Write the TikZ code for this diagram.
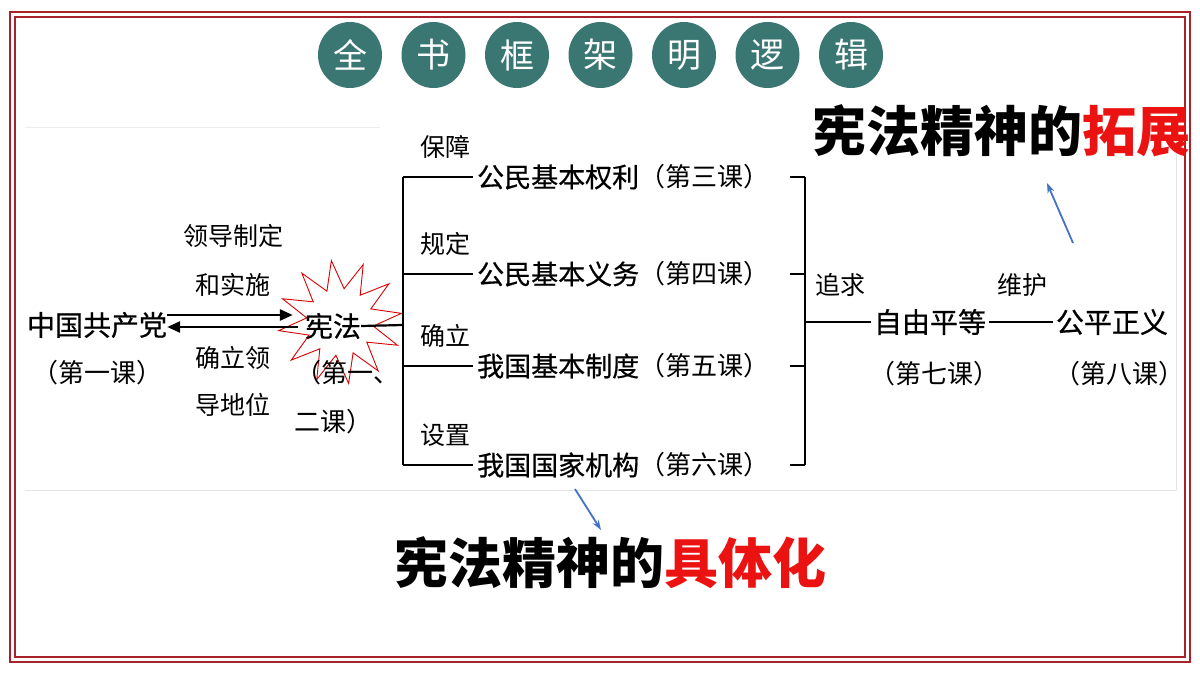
\documentclass[tikz,border=0pt]{standalone}
\usepackage{fontspec}
\setmainfont{Noto Sans CJK SC}
\newfontfamily\heavycjk{Noto Sans CJK SC}[UprightFeatures={FakeBold=0.6}]
\usetikzlibrary{arrows.meta, shapes.geometric}

\definecolor{framered}{RGB}{168,34,42}
\definecolor{circleteal}{RGB}{58,118,114}
\definecolor{arrowblue}{RGB}{68,114,196}
\definecolor{spiritred}{RGB}{235,18,18}

\begin{document}
\begin{tikzpicture}[x=1pt, y=-1pt,
    titlecircle/.style={ellipse, fill=circleteal, text=white, minimum width=64pt, minimum height=66pt, inner sep=0pt, font=\fontsize{34}{34}\selectfont},
    mainlabel/.style={inner sep=0pt, font=\fontsize{28}{28}\selectfont\heavycjk},
    sidelabel/.style={inner sep=0pt, font=\fontsize{25}{25}\selectfont},
    lessonlabel/.style={inner sep=0pt, font=\fontsize{26}{26}\selectfont},
    spirit/.style={inner sep=0pt, font=\fontsize{54}{54}\selectfont\bfseries},
    link/.style={line width=2.2pt},
    arr/.style={line width=2.6pt, -{Triangle[length=13pt, width=11pt]}},
    bluearr/.style={line width=1.8pt, arrowblue, -{Stealth[length=10pt, width=7pt]}}]
                \useasboundingbox (0,0) rectangle (1200,675);
                \fill[white] (0,0) rectangle (1200,675);

                % Frame:
                \draw[framered, line width=2.6pt] (10,12) rectangle (1190,662);
                \draw[framered, line width=1.6pt] (15,17) rectangle (1185,657);
                \draw[gray!15, line width=0.8pt] (25,127) -- (380,127);
                \draw[gray!20, line width=0.8pt] (25,490) -- (1176,490) -- (1176,127);

                % Title:
                \foreach \ch [count=\i] in {全,书,框,架,明,逻,辑}
                    \node[titlecircle] (t\i) at ({266.5+83.5*\i},55) {\ch};

                % Party and constitution:
                \node[mainlabel] (party) at (97,325) {中国共产党};
                \node[lessonlabel] (partyles) at (97,373) {（第一课）};
                \node[star, star points=12, star point ratio=1.85, rotate=8, draw=red!85!black, line width=0.9pt, minimum size=124pt] (burst) at (340,322) {};
                \node[mainlabel] (xianfa) at (333,326) {宪法};
                \node[lessonlabel] (xianfales1) at (347,373) {（第一、};
                \node[lessonlabel] (xianfales2) at (333,422) {二课）};

                \draw[arr] ([yshift=10pt]party.east) -- ([yshift=11pt, xshift=-12pt]xianfa.west);
                \draw[arr] ([yshift=-1pt, xshift=-7pt]xianfa.west) -- ([yshift=-2pt]party.east);
                \node[sidelabel] (lead1) at (233,236) {领导制定};
                \node[sidelabel] (lead2) at (233,285) {和实施};
                \node[sidelabel] (fix1) at (233,358) {确立领};
                \node[sidelabel] (fix2) at (233,405) {导地位};

                % Middle rows:
                \coordinate (fork) at (403,325);
                \foreach \txt/\les/\y/\verb/\n in {公民基本权利/第三课/177/保障/1, 公民基本义务/第四课/274/规定/2, 我国基本制度/第五课/366/确立/3, 我国国家机构/第六课/465/设置/4} {
                    \node[mainlabel, font=\fontsize{27}{27}\selectfont\heavycjk, anchor=west] (row\n) at (477,\y) {\txt};
                    \node[lessonlabel, anchor=west] (les\n) at (row\n.east) {（\les）};
                    \node[sidelabel] (verb\n) at (445,\y-30) {\verb};
                    \draw[link] (fork |- row\n.west) -- ([xshift=-4pt]row\n.west);
                    \draw[link] ([xshift=20pt]les\n.east) -- ([xshift=35pt]les\n.east);
                }
                \draw[link] (xianfa.east) -- (fork);
                \draw[link] (fork |- row1.west) -- (fork |- row4.west);

                % Right side:
                \coordinate (join) at ([xshift=35pt]les1.east);
                \node[mainlabel] (freedom) at (930,322) {自由平等};
                \node[mainlabel] (justice) at (1112,322) {公平正义};
                \node[lessonlabel] (freeles) at (934,374) {（第七课）};
                \node[lessonlabel] (justles) at (1119,374) {（第八课）};
                \node[sidelabel] (seek) at (840,285) {追求};
                \node[sidelabel] (guard) at (1022,285) {维护};
                \draw[link] (join) -- (join |- les4.east);
                \draw[link] (join |- freedom.west) -- ([xshift=-3pt]freedom.west);
                \draw[link] ([xshift=3pt]freedom.east) -- ([xshift=-3pt]justice.west);

                % Spirit captions:
                \node[spirit] (extend) at (1001,131) {宪法精神的\textcolor{spiritred}{拓展}};
                \node[spirit] (concrete) at (610,563) {宪法精神的\textcolor{spiritred}{具体化}};
                \coordinate (up0) at (1073,243);
                \coordinate (up1) at (1047,183);
                \coordinate (down0) at (575,489);
                \coordinate (down1) at (601,530);
                \draw[bluearr] (up0) -- (up1);
                \draw[bluearr] (down0) -- (down1);
            \end{tikzpicture}
\end{document}
